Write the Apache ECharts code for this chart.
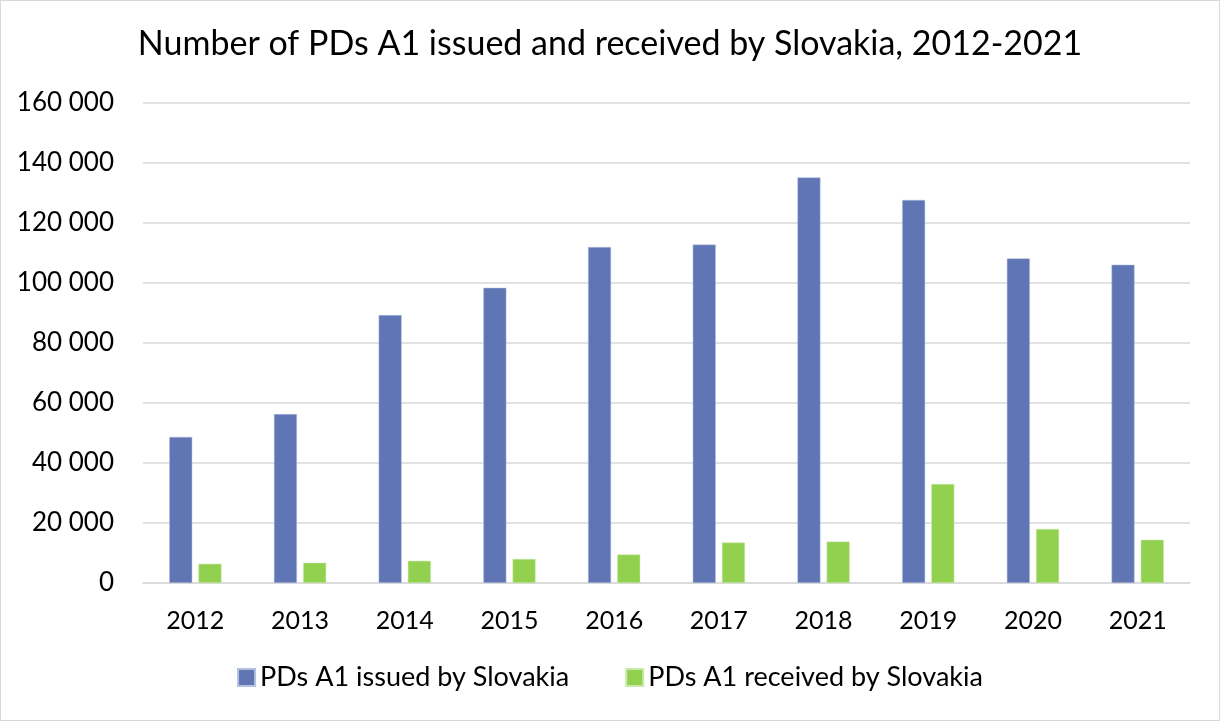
<!DOCTYPE html>
<html>
<head>
<meta charset="utf-8">
<title>PDs A1 Slovakia</title>
<script src="https://cdn.jsdelivr.net/npm/echarts@6/dist/echarts.min.js"></script>
<style>
    html, body { margin: 0; padding: 0; background: #fff; }
    .wrap_echarts {
        width: 1220px;
        height: 721px;
        box-sizing: border-box;
        border: 1.5px solid #d9d9d9;
    }
</style>
</head>
<body>
<div class="wrap_echarts"></div>
<script>
// data
let years = ['2012', '2013', '2014', '2015', '2016', '2017', '2018', '2019', '2020', '2021'];
let issued = [48700, 56300, 89300, 98400, 112000, 112800, 135200, 127700, 108200, 106100];
let received = [6400, 6750, 7400, 8000, 9500, 13500, 13800, 33000, 18000, 14400];
let issuedName = 'PDs A1 issued by Slovakia';
let receivedName = 'PDs A1 received by Slovakia';
let titleText = 'Number of PDs A1 issued and received by Slovakia, 2012-2021';

window.onload = function () {
    let myChart = echarts.init(document.getElementsByClassName('wrap_echarts')[0]);
    let font = 'Lato';

    option = {
        animation: false,
        color: ['#6076b4', '#92d050'],
        title: {
            text: titleText,
            left: 'center',
            top: 21,
            textStyle: {
                fontFamily: font,
                fontWeight: 'normal',
                fontSize: 34,
                color: '#000'
            }
        },
        legend: {
            bottom: 24,
            left: 'center',
            itemWidth: 17,
            itemHeight: 17,
            itemGap: 56,
            icon: 'rect',
            textStyle: {
                fontFamily: font,
                fontSize: 27,
                color: '#000',
                padding: [0, 0, 0, 0]
            },
            data: [issuedName, receivedName]
        },
        grid: {
            left: 142,
            right: 29,
            top: 102,
            bottom: 137,
            containLabel: false
        },
        xAxis: {
            type: 'category',
            data: years,
            axisLine: { lineStyle: { color: '#d9d9d9', width: 1.5 } },
            axisTick: { show: false },
            axisLabel: {
                margin: 25,
                fontFamily: font,
                fontSize: 25,
                color: '#000'
            }
        },
        yAxis: {
            type: 'value',
            min: 0,
            max: 160000,
            interval: 20000,
            axisLine: { show: false },
            axisTick: { show: false },
            splitLine: { lineStyle: { color: '#d9d9d9', width: 1.5 } },
            axisLabel: {
                margin: 29,
                fontFamily: font,
                fontSize: 26,
                color: '#000',
                formatter: function (v) {
                    return String(v).replace(/\B(?=(\d{3})+(?!\d))/g, ' ');
                }
            }
        },
        series: [{
            name: issuedName,
            type: 'bar',
            data: issued,
            barWidth: 23,
            barGap: '27%',
            itemStyle: { borderColor: '#b4c0e0', borderWidth: 0.5 }
        }, {
            name: receivedName,
            type: 'bar',
            data: received,
            barWidth: 23,
            itemStyle: { borderColor: '#c8eaa8', borderWidth: 0.5 }
        }]
    };

    myChart.setOption(option);
}
</script>
</body>
</html>
